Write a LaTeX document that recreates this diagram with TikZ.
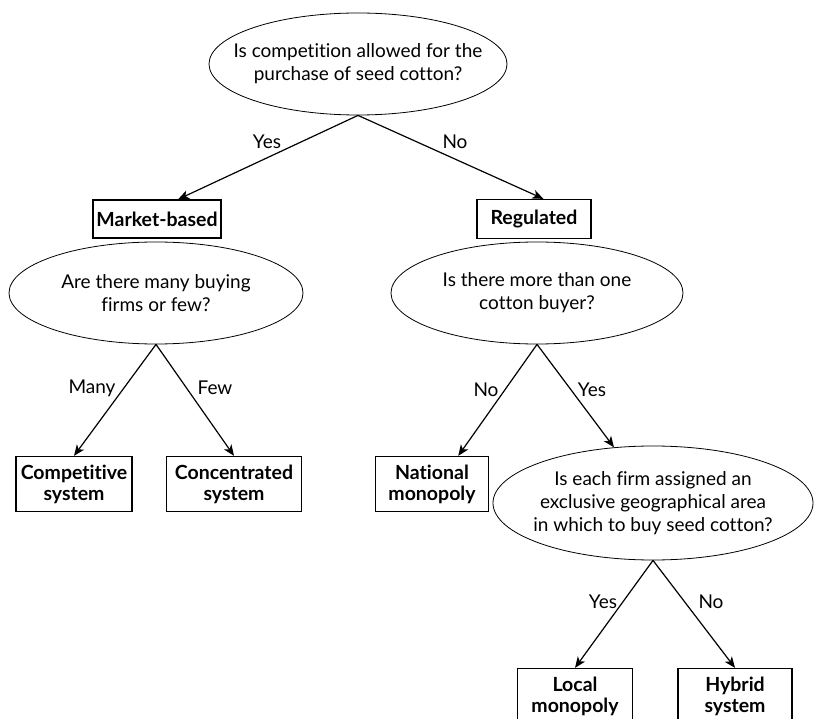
\documentclass[tikz,border=0pt]{standalone}
\usepackage{fontspec}
\setmainfont{Lato}[Ligatures={NoCommon}]
\usetikzlibrary{arrows.meta,shapes.geometric}

\begin{document}
\begin{tikzpicture}[x=1pt,y=-1pt,
question/.style n args={2}{ellipse,draw,line width=0.8pt,inner xsep=-70pt,inner ysep=-35pt,align=center,minimum width=#1pt,minimum height=#2pt,font=\fontsize{19}{23}\selectfont},
outcome/.style n args={2}{rectangle,draw,line width=1.3pt,inner sep=0pt,align=center,minimum width=#1pt,minimum height=#2pt,font=\fontsize{19.5}{21}\selectfont\bfseries},
answer/.style={inner sep=0pt,font=\fontsize{19}{21}\selectfont},
branch/.style={line width=1.2pt,-{Stealth[length=11pt,width=9pt,inset=3pt]}}]
\useasboundingbox (0,0) rectangle (814,719);
\node[question={298}{102}] (q1) at (358,64) {Is competition allowed for the\\purchase of seed cotton?};
\node[outcome={128}{38}] (mkt) at (157,219) {Market-based};
\node[outcome={114}{39}] (reg) at (534,219) {Regulated};
\node[question={294}{102}] (q2) at (156,293) {Are there many buying\\firms or few?};
\node[question={292}{102}] (q3) at (537,293) {Is there more than one\\cotton buyer?};
\node[outcome={116}{55}] (comp) at (74,484) {Competitive\\system};
\node[outcome={135}{55}] (conc) at (234,484) {Concentrated\\system};
\node[outcome={113}{55}] (nat) at (432,484) {National\\monopoly};
\node[question={320}{114}] (q4) at (653,503) {Is each firm assigned an\\exclusive geographical area\\in which to buy seed cotton?};
\node[outcome={115}{55}] (loc) at (575,696) {Local\\monopoly};
\node[outcome={114}{55}] (hyb) at (735,696) {Hybrid\\system};
\foreach \a/\b in {q1.south/mkt.43,q1.south/reg.65,q2.south/comp.north,q2.south/conc.north,
  q3.south/nat.47,q3.south/q4.125,q4.south/loc.north,q4.south/hyb.north}
  \draw[branch] (\a) -- (\b);
\foreach \n/\x/\y/\t in {1/267/142/Yes,2/455/142/No,3/92/388/Many,4/215/388/Few,
  5/486/390/No,6/592/390/Yes,7/603/602/Yes,8/711/602/No}
  \node[answer] (ans\n) at (\x,\y) {\t};
\end{tikzpicture}
\end{document}
